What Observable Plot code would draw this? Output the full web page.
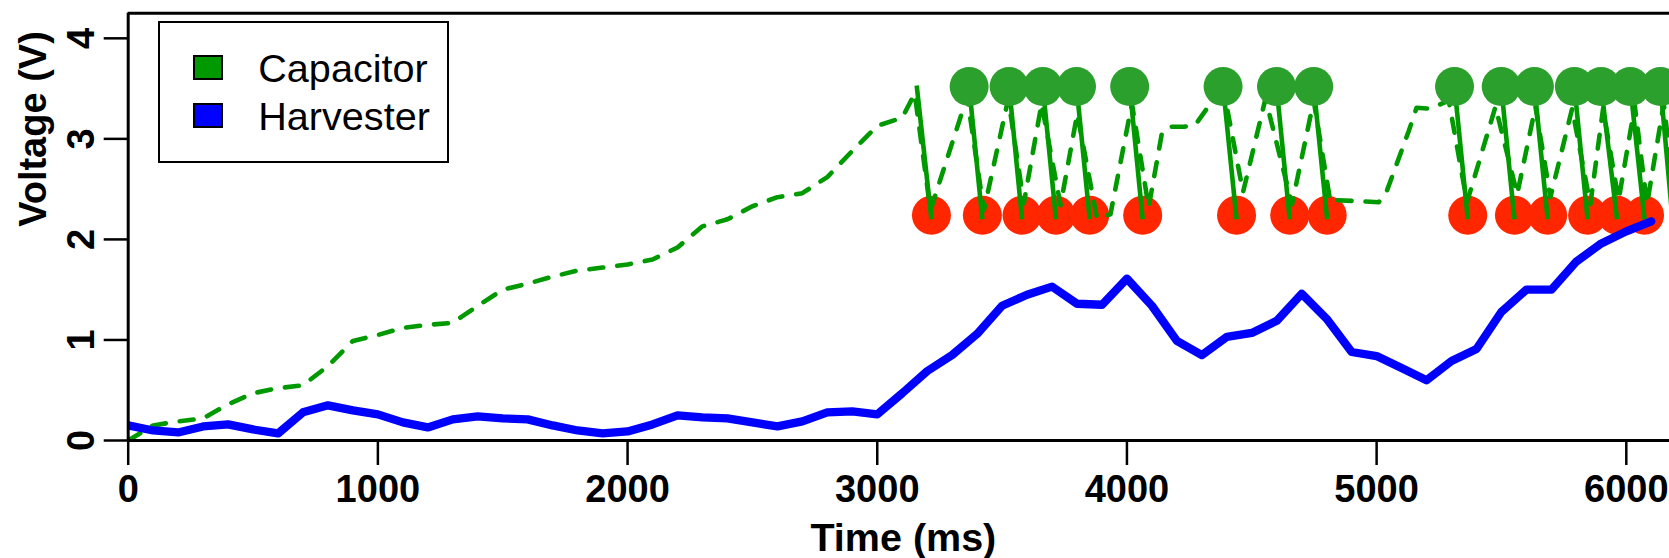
<!DOCTYPE html>
<html><head><meta charset="utf-8">
<script src="https://cdn.jsdelivr.net/npm/d3@7"></script>
<script src="https://cdn.jsdelivr.net/npm/@observablehq/plot@0.6"></script>
<style>
html,body{margin:0;padding:0;background:#fff;overflow:hidden;}
#wrap{position:relative;width:1669px;height:558px;}
.legend{position:absolute;left:157.7px;top:20.7px;width:291.3px;height:142.6px;border:2.7px solid #000;box-sizing:border-box;background:#fff;font-family:"Liberation Sans",Arial,sans-serif;font-size:39.6px;}
.sw{position:absolute;left:32.9px;width:30px;height:24.7px;border:2.7px solid #000;box-sizing:border-box;}
.lab{position:absolute;left:98.6px;line-height:38px;white-space:nowrap;color:#000;}
</style>
</head><body>
<div id="wrap"></div>
<script>
// ---- data ----
const xTicks = [0, 1000, 2000, 3000, 4000, 5000, 6000];
const yTicks = [0, 1, 2, 3, 4];
const xDomain = [0, 6173];
const yDomain = [0, 4.25];
const xTitle = "Time (ms)";
const yTitle = "Voltage (V)";
const seriesNames = ["Capacitor", "Harvester"];
const seriesColors = ["#009900", "#0000ff"];

const harvT = [0,100,200,300,400,500,600,700,800,900,1000,1100,1200,1300,1400,1500,1600,1700,1800,1900,
  2000,2100,2200,2300,2400,2500,2600,2700,2800,2900,3000,3100,3200,3300,3400,3500,3600,3700,3800,3900,
  4000,4100,4200,4300,4400,4500,4600,4700,4800,4900,5000,5100,5200,5300,5400,5500,5600,5700,5800,5900,6000,6100];
const harvV = [0.15,0.10,0.08,0.14,0.16,0.11,0.07,0.28,0.35,0.30,0.26,0.18,0.13,0.21,0.24,0.22,0.21,0.15,0.10,0.07,
  0.09,0.16,0.25,0.23,0.22,0.18,0.14,0.19,0.28,0.29,0.26,0.47,0.69,0.85,1.06,1.34,1.45,1.53,1.36,1.35,
  1.61,1.34,0.99,0.85,1.03,1.07,1.19,1.46,1.21,0.88,0.84,0.72,0.60,0.79,0.91,1.28,1.50,1.50,1.78,1.96,2.08,2.18];

const capT = [0,100,200,300,400,500,600,700,800,900,1000,1100,1200,1300,1400,1500,1600,1700,1800,1900,
  2000,2100,2200,2300,2400,2500,2600,2700,2800,2900,3000,3100,3150,3213,3360,3427,3525,3587,3658,3734,
  3801,3880,3934,4020,4087,4141,4174,4228,4274,4320,4390,4465,4555,4661,4748,4815,4842,5009,5042,5129,
  5160,5215,5289,5362,5476,5563,5636,5696,5783,5856,5907,5969,6034,6083,6150,6200];
const capV = [0.00,0.15,0.19,0.22,0.36,0.47,0.52,0.55,0.74,0.99,1.05,1.12,1.15,1.17,1.34,1.50,1.56,1.63,1.69,1.72,
  1.75,1.80,1.92,2.13,2.20,2.33,2.42,2.46,2.62,2.88,3.13,3.21,3.45,2.29,3.42,2.29,3.40,2.36,3.35,2.34,
  3.25,2.21,2.25,3.35,2.32,3.07,3.12,3.12,3.14,3.30,3.45,2.47,3.40,2.35,3.38,2.37,2.39,2.37,2.49,3.08,
  3.31,3.30,3.38,2.37,3.32,2.45,3.32,2.42,3.30,2.35,3.30,2.39,3.33,2.35,3.35,2.30];

const onT  = [3368,3528,3663,3798,4011,4385,4599,4748,5312,5499,5632,5792,5899,6016,6137];
const onV  = [3.52,3.52,3.52,3.52,3.52,3.52,3.52,3.52,3.52,3.52,3.52,3.52,3.52,3.52,3.52];
const offT = [3217,3421,3580,3716,3851,4063,4439,4652,4802,5365,5552,5685,5845,5963,6073];
const offV = [2.24,2.24,2.24,2.24,2.24,2.24,2.24,2.24,2.24,2.24,2.24,2.24,2.24,2.24,2.24];

const dropT1 = [3158,3368,3528,3663,3798,4011,4385,4599,4748,5312,5499,5632,5792,5899,6016,6137];
const dropV1 = [3.53,3.52,3.52,3.52,3.52,3.52,3.52,3.52,3.52,3.52,3.52,3.52,3.52,3.52,3.52,3.52];
const dropT2 = [3217,3421,3580,3716,3851,4063,4439,4652,4802,5365,5552,5685,5845,5963,6073,6185];
const dropV2 = [2.20,2.20,2.20,2.20,2.20,2.20,2.20,2.20,2.20,2.20,2.20,2.20,2.20,2.20,2.20,2.20];

// ---- tables ----
const harv = harvT.map((t, i) => ({t, v: harvV[i]}));
const cap = capT.map((t, i) => ({t, v: capV[i]}));
const on = onT.map((t, i) => ({t, v: onV[i]}));
const off = offT.map((t, i) => ({t, v: offV[i]}));
const drops = dropT1.map((t, i) => ({t1: t, v1: dropV1[i], t2: dropT2[i], v2: dropV2[i]}));

const chart = Plot.plot({
  width: 1669, height: 558,
  marginLeft: 127.7, marginRight: 0, marginTop: 12.7, marginBottom: 118,
  style: {fontFamily: "'Liberation Sans', Arial, sans-serif", fontSize: "38px", fontWeight: "bold", background: "white", color: "black", overflow: "visible"},
  x: {domain: xDomain},
  y: {domain: yDomain},
  marks: [
    Plot.axisX(xTicks, {tickSize: 25, tickPadding: 10, strokeWidth: 2.5, tickFormat: d => String(d), label: null, fontSize: 38, fontWeight: "bold"}),
    Plot.axisY(yTicks, {tickSize: 24, tickPadding: 10.4, tickRotate: -90, strokeWidth: 2.5, tickFormat: d => String(d), label: null, fontSize: 38, fontWeight: "bold"}),
    Plot.dot(off, {x: "t", y: "v", r: 19.5, fill: "#ff2600"}),
    Plot.line(cap, {x: "t", y: "v", stroke: seriesColors[0], strokeWidth: 4.6, strokeDasharray: "14,14", strokeLinecap: "round", strokeLinejoin: "round", clip: true}),
    Plot.link(drops, {x1: "t1", y1: "v1", x2: "t2", y2: "v2", stroke: seriesColors[0], strokeWidth: 4.6, clip: true}),
    Plot.dot(on, {x: "t", y: "v", r: 19.5, fill: "#2ca02c"}),
    Plot.line(harv, {x: "t", y: "v", stroke: seriesColors[1], strokeWidth: 8.3, strokeLinejoin: "round", strokeLinecap: "round", clip: true}),
    Plot.ruleX([xDomain[0]], {strokeWidth: 3}),
    Plot.ruleY([yDomain[0], yDomain[1]], {strokeWidth: 3}),
    Plot.text([xTitle], {text: d => d, frameAnchor: "bottom", lineAnchor: "top", dy: 82, dx: 4.5, fontSize: 39.5, fontWeight: "bold"}),
    Plot.text([yTitle], {text: d => d, frameAnchor: "left", rotate: -90, lineAnchor: "top", dx: -109.4, fontSize: 38, fontWeight: "bold"})
  ]
});
const wrap = document.getElementById("wrap");
wrap.appendChild(chart);

// legend overlay
const lg = document.createElement("div");
lg.className = "legend";
seriesNames.forEach((name, i) => {
  const sw = document.createElement("div");
  sw.className = "sw";
  sw.style.top = (32.6 + i * 47.9) + "px";
  sw.style.background = seriesColors[i];
  lg.appendChild(sw);
  const lb = document.createElement("div");
  lb.className = "lab";
  lb.style.top = (26.0 + i * 47.9) + "px";
  lb.textContent = name;
  lg.appendChild(lb);
});
wrap.appendChild(lg);
</script>
</body></html>
